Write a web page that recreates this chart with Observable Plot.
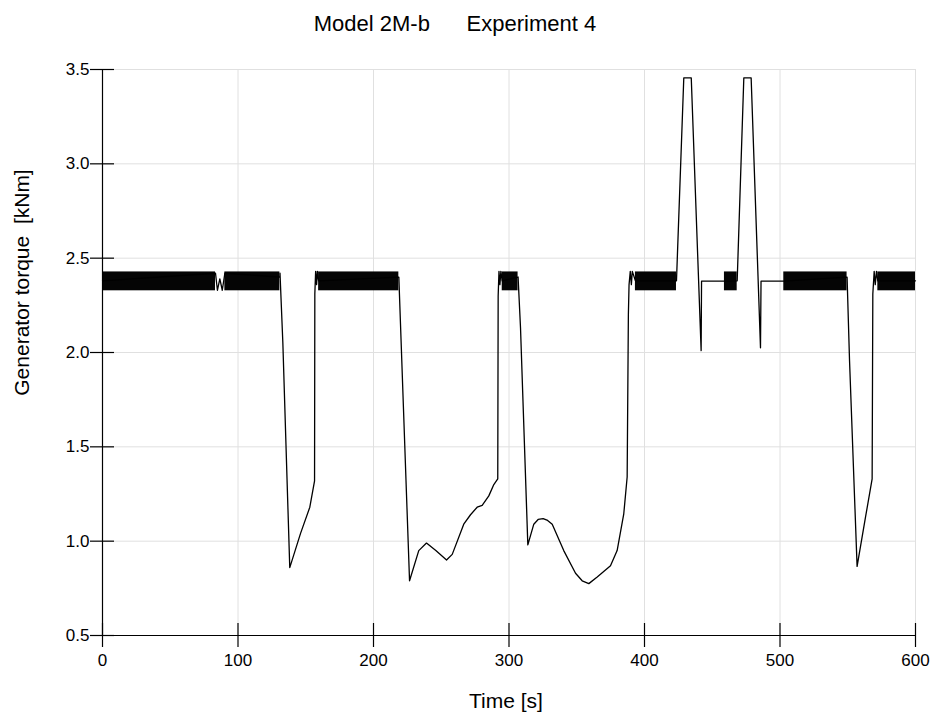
<!DOCTYPE html>
<html><head><meta charset="utf-8">
<script src="https://cdn.jsdelivr.net/npm/d3@7"></script>
<script src="https://cdn.jsdelivr.net/npm/@observablehq/plot@0.6"></script>
<style>
body{margin:0;background:#fff;font-family:"Liberation Sans",Arial,sans-serif;}
#wrap{position:relative;width:931px;height:718px;}
#title{position:absolute;top:13px;left:0;width:910px;text-align:center;font-size:22px;line-height:1;white-space:pre;color:#000;}
#chart{position:absolute;top:0;left:0;}
</style></head><body>
<div id="wrap"><div id="chart"></div><div id="title">Model 2M-b      Experiment 4</div></div>
<script>
// Oscillation bands (time ranges where torque chatters between the low and high values)
const bandStart = [0, 90.3, 159.5, 295.0, 393.3, 459.0, 502.8, 572.2];
const bandEnd   = [83.4, 130.9, 218.7, 306.7, 423.6, 468.4, 549.5, 600];
const bandLow  = [2.327, 2.327, 2.327, 2.327, 2.327, 2.327, 2.327, 2.327];
const bandHigh = [2.427, 2.427, 2.427, 2.427, 2.427, 2.427, 2.427, 2.427];

// Torque trace (mean level inside bands, transients outside)
const timeS = [0, 83.4, 84.8, 86.6, 88.4, 90.3, 130.9,
  131.0, 133.1, 138.2, 146.1, 153.0, 156.5, 156.7, 157.3, 158.0, 158.6, 159.5,
  218.7, 226.6, 233.4, 239.1, 246.0, 253.9, 258.1, 266.6, 271.6, 276.5, 280.2, 285.1, 288.8, 291.7,
  292.0, 292.6, 293.3, 294.0, 295.0,
  306.7, 308.5, 313.9, 318.3, 321.5, 325.2, 328.5, 331.9, 340.4, 349.1, 354.0, 358.9, 365.1, 374.9, 379.8, 384.7, 387.2,
  388.1, 388.6, 389.5, 390.3, 391.0, 393.3,
  423.6, 429.0, 434.5, 441.8, 442.1, 459.0,
  468.4, 473.3, 478.7, 485.6, 486.0, 502.8,
  549.5, 551.3, 556.9, 563.1, 568.0, 568.5, 569.5, 570.3, 571.2, 572.2, 600];
const torque = [2.38, 2.42, 2.33, 2.39, 2.33, 2.42, 2.40,
  2.42, 2.05, 0.86, 1.04, 1.18, 1.32, 2.31, 2.43, 2.36, 2.43, 2.38,
  2.40, 0.79, 0.95, 0.99, 0.95, 0.90, 0.93, 1.09, 1.14, 1.18, 1.19, 1.24, 1.30, 1.33,
  2.30, 2.43, 2.36, 2.43, 2.38,
  2.40, 2.13, 0.98, 1.09, 1.115, 1.12, 1.11, 1.09, 0.95, 0.83, 0.79, 0.775, 0.81, 0.87, 0.95, 1.145, 1.34,
  2.20, 2.36, 2.43, 2.36, 2.43, 2.38,
  2.38, 3.456, 3.456, 2.01, 2.378, 2.378,
  2.38, 3.456, 3.456, 2.025, 2.378, 2.378,
  2.40, 1.96, 0.866, 1.127, 1.33, 2.31, 2.43, 2.36, 2.43, 2.38, 2.38];

const xTicks = [0, 100, 200, 300, 400, 500, 600];
const yTicks = [0.5, 1.0, 1.5, 2.0, 2.5, 3.0, 3.5];
const yTickLabels = ["0.5", "1.0", "1.5", "2.0", "2.5", "3.0", "3.5"];
const xLabel = "Time [s]";
const yLabel = "Generator torque\u00a0 [kNm]";

const bands = bandStart.map((t0, i) => ({t0, t1: bandEnd[i], lo: bandLow[i], hi: bandHigh[i]}));
const series = timeS.map((t, i) => ({t, v: torque[i]}));

const chart = Plot.plot({
  width: 931, height: 718,
  marginLeft: 102, marginRight: 16, marginTop: 69, marginBottom: 83,
  x: {domain: [0, 600]},
  y: {domain: [0.5, 3.5]},
  style: {fontFamily: "'Liberation Sans', Arial, sans-serif", background: "white", color: "black"},
  marks: [
    Plot.gridX(xTicks, {stroke: "#e0e0e0", strokeOpacity: 1}),
    Plot.gridY(yTicks, {stroke: "#e0e0e0", strokeOpacity: 1}),
    Plot.rect(bands, {x1: "t0", x2: "t1", y1: "lo", y2: "hi", fill: "#050505"}),
    Plot.line(series, {x: "t", y: "v", stroke: "black", strokeWidth: 1.3}),
    Plot.ruleX([0], {stroke: "black", strokeWidth: 1.2}),
    Plot.ruleY([0.5], {stroke: "black", strokeWidth: 1.2}),
    Plot.tickX(xTicks, {x: d => d, insetTop: 554, insetBottom: -12, stroke: "black", strokeWidth: 1.2}),
    Plot.tickY(yTicks, {y: d => d, insetLeft: -12, insetRight: 801, stroke: "black", strokeWidth: 1.2}),
    Plot.axisX(xTicks, {tickSize: 0, tickPadding: 18, fontSize: 17, label: null}),
    Plot.axisY(yTicks, {tickSize: 0, tickPadding: 13, fontSize: 17, label: null, tickFormat: (d, i) => yTickLabels[i]}),
    Plot.text([xLabel], {text: d => d, frameAnchor: "bottom", dx: -3, dy: 72, fontSize: 21}),
    Plot.text([yLabel], {text: d => d, frameAnchor: "left", textAnchor: "middle", dx: -80, dy: -70, rotate: -90, fontSize: 21})
  ]
});
document.getElementById("chart").appendChild(chart);
</script>
</body></html>
